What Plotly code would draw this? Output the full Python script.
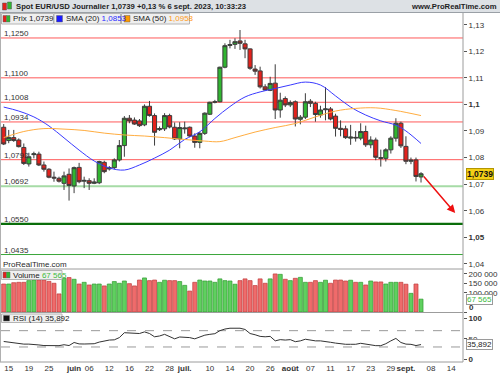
import plotly.graph_objects as go
import pandas as pd

W, H = 500, 375
FONT = "Liberation Sans, Arial, sans-serif"

# ---------------- data ----------------
dates = pd.bdate_range("2023-05-12", "2023-09-06").strftime("%Y-%m-%d").tolist()

opens = [1.0914, 1.0864, 1.0875, 1.0866, 1.0838, 1.0776, 1.0811, 1.0813, 1.0772, 1.0756,
         1.0726, 1.0722, 1.0703, 1.0737, 1.0693, 1.0763, 1.0711, 1.0713, 1.0703, 1.0705,
         1.0782, 1.0757, 1.0762, 1.0791, 1.0845, 1.0948, 1.0941, 1.0938, 1.0923, 1.0993,
         1.0958, 1.0905, 1.0908, 1.0958, 1.0914, 1.0870, 1.0908, 1.0914, 1.0881, 1.0857,
         1.0891, 1.0963, 1.1008, 1.1010, 1.1140, 1.1222, 1.1226, 1.1239, 1.1228, 1.1209,
         1.1133, 1.1126, 1.1066, 1.1053, 1.1080, 1.0979, 1.1022, 1.0998, 1.1010, 1.0944,
         1.0952, 1.1012, 1.1004, 1.0960, 1.0980, 1.0983, 1.0956, 1.0910, 1.0908, 1.0873,
         1.0876, 1.0873, 1.0898, 1.0848, 1.0866, 1.0800, 1.0797, 1.0829, 1.0873, 1.0929,
         1.0842, 1.0786, 1.0791, 1.0727]
highs = [1.0926, 1.0904, 1.0904, 1.0872, 1.0853, 1.0818, 1.0822, 1.0822, 1.0785, 1.0760,
         1.0747, 1.0728, 1.0747, 1.0759, 1.0766, 1.0780, 1.0728, 1.0722, 1.0722, 1.0788,
         1.0788, 1.0768, 1.0797, 1.0866, 1.0956, 1.0960, 1.0951, 1.0945, 1.1000, 1.1013,
         1.0966, 1.0917, 1.0967, 1.0965, 1.0932, 1.0933, 1.0935, 1.0917, 1.0891, 1.0897,
         1.0970, 1.1010, 1.1017, 1.1142, 1.1230, 1.1243, 1.1249, 1.1280, 1.1243, 1.1211,
         1.1148, 1.1142, 1.1076, 1.1104, 1.1151, 1.1044, 1.1030, 1.1015, 1.1015, 1.0960,
         1.1042, 1.1020, 1.1010, 1.0995, 1.1065, 1.0990, 1.0965, 1.0940, 1.0920, 1.0923,
         1.0900, 1.0929, 1.0920, 1.0880, 1.0875, 1.0830, 1.0835, 1.0880, 1.0948, 1.0935,
         1.0880, 1.0800, 1.0800, 1.0745]
lows = [1.0847, 1.0854, 1.0859, 1.0838, 1.0772, 1.0766, 1.0797, 1.0768, 1.0747, 1.0722,
        1.0709, 1.0706, 1.0678, 1.0638, 1.0666, 1.0703, 1.0685, 1.0678, 1.0700, 1.0700,
        1.0741, 1.0751, 1.0756, 1.0785, 1.0803, 1.0929, 1.0923, 1.0915, 1.0918, 1.0954,
        1.0845, 1.0900, 1.0900, 1.0910, 1.0866, 1.0835, 1.0890, 1.0877, 1.0837, 1.0835,
        1.0885, 1.0960, 1.1004, 1.1008, 1.1136, 1.1211, 1.1209, 1.1205, 1.1174, 1.1130,
        1.1111, 1.1060, 1.1052, 1.1050, 1.0945, 1.0950, 1.0990, 1.0990, 1.0917, 1.0925,
        1.0945, 1.0990, 1.0935, 1.0950, 1.0940, 1.0940, 1.0879, 1.0880, 1.0870, 1.0848,
        1.0860, 1.0865, 1.0840, 1.0835, 1.0790, 1.0766, 1.0785, 1.0815, 1.0860, 1.0836,
        1.0775, 1.0775, 1.0710, 1.0706]
closes = [1.0851, 1.0876, 1.0864, 1.0841, 1.0778, 1.0803, 1.0814, 1.0772, 1.0756, 1.0726,
          1.0723, 1.0711, 1.0731, 1.0695, 1.0762, 1.0709, 1.0714, 1.0703, 1.0708, 1.0785,
          1.0747, 1.0762, 1.0791, 1.0845, 1.0948, 1.0938, 1.0926, 1.0920, 1.0993, 1.0958,
          1.0895, 1.0909, 1.0958, 1.0915, 1.0870, 1.0913, 1.0911, 1.0881, 1.0857, 1.0891,
          1.0967, 1.1008, 1.1010, 1.1140, 1.1221, 1.1225, 1.1236, 1.1230, 1.1209, 1.1136,
          1.1125, 1.1066, 1.1054, 1.1079, 1.0979, 1.1016, 1.0998, 1.1007, 1.0945, 1.0952,
          1.1010, 1.1004, 1.0962, 1.0979, 1.0983, 1.0945, 1.0910, 1.0906, 1.0875, 1.0877,
          1.0874, 1.0898, 1.0848, 1.0866, 1.0801, 1.0797, 1.0829, 1.0873, 1.0929, 1.0844,
          1.0786, 1.0790, 1.0729, 1.0739]

volumes = [147000, 147000, 154000, 156000, 156000, 165000, 168000, 168000, 168000, 161000,
           151000, 95000, 177000, 181000, 172000, 147000, 156000, 142000, 147000, 147000,
           137000, 147000, 160000, 151000, 163000, 149000, 137000, 168000, 179000, 165000,
           168000, 156000, 167000, 165000, 165000, 160000, 140000, 110000, 156000, 168000,
           163000, 163000, 156000, 174000, 165000, 163000, 146000, 165000, 174000, 165000,
           139000, 174000, 151000, 174000, 200000, 198000, 172000, 165000, 177000, 182000,
           156000, 156000, 165000, 156000, 167000, 151000, 168000, 168000, 163000, 167000,
           156000, 156000, 142000, 163000, 158000, 158000, 147000, 156000, 156000, 156000,
           146000, 98000, 147000, 67565]

rsi = [43.5, 41.5, 40.0, 39.0, 37.0, 37.0, 36.6, 35.0, 33.5, 33.2,
       33.2, 33.2, 35.5, 33.5, 41.0, 37.5, 37.3, 37.5, 38.0, 42.0,
       45.0, 47.0, 47.5, 53.0, 65.0, 64.0, 63.0, 63.0, 67.0, 63.0,
       55.0, 57.0, 61.0, 56.0, 50.0, 54.5, 54.5, 53.0, 50.0, 54.0,
       59.0, 61.0, 62.6, 70.0, 74.0, 76.0, 76.0, 76.0, 73.0, 63.0,
       60.0, 56.0, 55.0, 56.0, 45.0, 48.0, 47.0, 48.0, 43.0, 45.0,
       49.0, 47.0, 45.0, 45.0, 44.0, 41.5, 39.5, 37.5, 36.6, 36.6,
       36.6, 39.0, 36.6, 34.5, 33.2, 33.2, 38.0, 45.0, 51.0, 41.0,
       37.0, 36.5, 33.5, 35.892]

sma20_dates = ["2023-05-12", "2023-05-17", "2023-05-22", "2023-05-25", "2023-05-30", "2023-06-02",
               "2023-06-07", "2023-06-12", "2023-06-15", "2023-06-20", "2023-06-23", "2023-06-28",
               "2023-07-03", "2023-07-06", "2023-07-11", "2023-07-14", "2023-07-19", "2023-07-24",
               "2023-07-27", "2023-08-01", "2023-08-04", "2023-08-09", "2023-08-14", "2023-08-17",
               "2023-08-22", "2023-08-25", "2023-08-30", "2023-09-01", "2023-09-06"]
sma20_vals = [1.0990, 1.0975, 1.0953, 1.0919, 1.0874, 1.0828, 1.0787, 1.0761, 1.0753, 1.0772,
              1.0798, 1.0828, 1.0868, 1.0897, 1.0947, 1.0992, 1.1028, 1.1047, 1.1060, 1.1073,
              1.1084, 1.1073, 1.1032, 1.0990, 1.0960, 1.0938, 1.0922, 1.0900, 1.0853]

sma50_dates = ["2023-05-12", "2023-05-18", "2023-05-24", "2023-05-30", "2023-06-05", "2023-06-09",
               "2023-06-15", "2023-06-21", "2023-06-27", "2023-07-03", "2023-07-07", "2023-07-12",
               "2023-07-17", "2023-07-21", "2023-07-27", "2023-08-02", "2023-08-08", "2023-08-14",
               "2023-08-18", "2023-08-24", "2023-08-30", "2023-09-06"]
sma50_vals = [1.0875, 1.0898, 1.0909, 1.0907, 1.0902, 1.0892, 1.0885, 1.0881, 1.0875, 1.0868,
              1.0862, 1.0860, 1.0875, 1.0896, 1.0913, 1.0928, 1.0953, 1.0975, 1.0985, 1.0987,
              1.0977, 1.0958]

levels = [1.1250, 1.1100, 1.1008, 1.0934, 1.0792, 1.0692, 1.0550, 1.0435]
level_labels = ["1,1250", "1,1100", "1,1008", "1,0934", "1,0792", "1,0692", "1,0550", "1,0435"]
level_colors = ["#ff5a5a", "#ff5a5a", "#ff5a5a", "#ff5a5a", "#ff5a5a", "#a6dba6", "#0a6e0a", "#3aa63a"]
level_widths = [1, 1, 1, 1, 1, 2, 2.2, 1]

x_tick_dates = ["2023-05-15", "2023-05-19", "2023-05-25", "2023-06-01", "2023-06-06", "2023-06-12",
                "2023-06-16", "2023-06-22", "2023-06-28", "2023-07-03", "2023-07-10", "2023-07-14",
                "2023-07-20", "2023-07-26", "2023-08-01", "2023-08-07", "2023-08-11", "2023-08-17",
                "2023-08-23", "2023-08-29", "2023-09-01", "2023-09-08", "2023-09-14"]
x_tick_labels = ["15", "19", "25", "<b>juin</b>", "06", "12", "16", "22", "28", "<b>juil.</b>",
                 "10", "14", "20", "26", "<b>août</b>", "07", "11", "17", "23", "29", "<b>sept.</b>",
                 "08", "14"]

price_ticks = [1.04, 1.05, 1.06, 1.07, 1.08, 1.09, 1.10, 1.11, 1.12, 1.13]
price_tick_labels = ["1,04", "<b>1,05</b>", "1,06", "1,07", "1,08", "1,09", "<b>1,1</b>", "1,11", "1,12", "1,13"]
vol_ticks = [0, 100000, 150000, 200000]
vol_tick_labels = ["", "100 000", "150 000", "200 000"]
vol_zero_label = "<b>0</b>"
rsi_ticks = [0, 50, 100]
rsi_tick_labels = ["<b>0</b>", "50", "<b>100</b>"]

last_price, sma20_last, sma50_last = "1,0739", "1,0853", "1,0958"
last_volume_txt, last_rsi_txt = "67 565", "35,892"
arrow_start = ("2023-09-06", 1.0734)   # from the last candle
arrow_steps, arrow_end_price = 6.5, 1.0591

# ---------------- positions ----------------
sessions = pd.bdate_range("2023-05-12", "2023-09-29").strftime("%Y-%m-%d").tolist()
pos = {d: i for i, d in enumerate(sessions)}
xs = [pos[d] for d in dates]


def px(x):
    return x / W


def py(y):
    return 1 - y / H


X_L, X_R = 1, 463
MAIN_T, MAIN_B = 13, 268
VOL_T, VOL_B = 269, 312
RSI_T, RSI_B = 313, 362
xrange_ = [-0.537, 91.35]

inc_color, dec_color = "#30b530", "#e3211c"
vol_inc, vol_dec = "#5fd05f", "#ef6b6b"
vol_colors = [vol_inc if c >= o else vol_dec for o, c in zip(opens, closes)]
vol_line = ["#2f9a2f" if c >= o else "#c03b3b" for o, c in zip(opens, closes)]

fig = go.Figure()

fig.add_trace(go.Candlestick(
    x=xs, open=opens, high=highs, low=lows, close=closes,
    increasing=dict(fillcolor=inc_color, line=dict(color="#3c3c3c", width=1)),
    decreasing=dict(fillcolor=dec_color, line=dict(color="#3c3c3c", width=1)),
    whiskerwidth=0, xaxis="x", yaxis="y", showlegend=False, hoverinfo="skip"))

fig.add_trace(go.Scatter(x=[pos[d] for d in sma20_dates], y=sma20_vals, mode="lines",
                         line=dict(color="#3a3aff", width=1, shape="spline"),
                         xaxis="x", yaxis="y", showlegend=False, hoverinfo="skip"))
fig.add_trace(go.Scatter(x=[pos[d] for d in sma50_dates], y=sma50_vals, mode="lines",
                         line=dict(color="#ffad40", width=1, shape="spline"),
                         xaxis="x", yaxis="y", showlegend=False, hoverinfo="skip"))

fig.add_trace(go.Bar(x=xs, y=volumes, marker=dict(color=vol_colors, line=dict(color=vol_line, width=0.7)),
                     xaxis="x", yaxis="y2", showlegend=False, hoverinfo="skip"))

fig.add_trace(go.Scatter(x=xs, y=rsi, mode="lines", line=dict(color="#333333", width=1),
                         xaxis="x", yaxis="y3", showlegend=False, hoverinfo="skip"))

shapes = []
for lv, col, wd in zip(levels, level_colors, level_widths):
    shapes.append(dict(type="line", xref="x domain", x0=0, x1=1, yref="y", y0=lv, y1=lv,
                       line=dict(color=col, width=wd), layer="below"))
for lv in (70, 30):
    shapes.append(dict(type="line", xref="x domain", x0=0, x1=1, yref="y3", y0=lv, y1=lv,
                       line=dict(color="#9a9a9a", width=1, dash="dash"), layer="below"))
# header
shapes.append(dict(type="rect", xref="paper", yref="paper", x0=0, x1=1, y0=py(12.5), y1=1,
                   fillcolor="#dde1e5", line=dict(width=0), layer="above"))
shapes.append(dict(type="line", xref="paper", yref="paper", x0=0, x1=1, y0=py(12.5), y1=py(12.5),
                   line=dict(color="#9aa0a6", width=1), layer="above"))
shapes.append(dict(type="rect", xref="paper", yref="paper", x0=px(2.5), x1=px(6.5), y0=py(10), y1=py(3),
                   fillcolor=dec_color, line=dict(color="#555", width=0.5), layer="above"))
shapes.append(dict(type="rect", xref="paper", yref="paper", x0=px(7.5), x1=px(11.5), y0=py(9), y1=py(2),
                   fillcolor=inc_color, line=dict(color="#555", width=0.5), layer="above"))
grey = "#9c9c9c"
for y in (VOL_T, VOL_B + 0.5, RSI_B):
    shapes.append(dict(type="line", xref="paper", yref="paper", x0=0, x1=px(X_R), y0=py(y), y1=py(y),
                       line=dict(color=grey, width=1), layer="above"))
shapes.append(dict(type="line", xref="paper", yref="paper", x0=px(X_R), x1=px(X_R), y0=py(RSI_B), y1=py(MAIN_T),
                   line=dict(color=grey, width=1), layer="above"))
shapes.append(dict(type="line", xref="paper", yref="paper", x0=px(0.5), x1=px(0.5), y0=py(RSI_B), y1=py(MAIN_T),
                   line=dict(color="#b0b0b0", width=1), layer="above"))


def box(x0, x1, y0, y1):
    shapes.append(dict(type="rect", xref="paper", yref="paper", x0=px(x0), x1=px(x1), y0=py(y1), y1=py(y0),
                       fillcolor="#efefef", line=dict(color="#b4b4b4", width=1), layer="above"))


def icon(x0, x1, y0, y1, col):
    shapes.append(dict(type="rect", xref="paper", yref="paper", x0=px(x0), x1=px(x1), y0=py(y1), y1=py(y0),
                       fillcolor=col, line=dict(color="#666", width=0.5), layer="above"))


box(1.5, 53.5, 13.5, 24); box(54, 120.5, 13.5, 24); box(121.5, 189.5, 13.5, 24)
icon(3, 6.5, 15.5, 22, dec_color); icon(6.5, 10, 15.5, 22, inc_color)
icon(56.5, 62.5, 15.5, 22, "#1a1aff"); icon(124, 130, 15.5, 22, "#ff9900")
box(1.5, 62, 270.5, 279.5); icon(3, 6.5, 272, 278, dec_color); icon(6.5, 10, 272, 278, inc_color)
box(1.5, 62, 314, 322.5); icon(3.5, 9.5, 315.5, 321, "#111111")

ann = []


def text(x, y, s, size=8, color="#222", anchor="left", bold=False, **kw):
    ann.append(dict(xref="paper", yref="paper", x=px(x), y=py(y), text=("<b>%s</b>" % s) if bold else s,
                    showarrow=False, xanchor=anchor, yanchor="middle",
                    font=dict(family=FONT, size=size, color=color), borderpad=0, **kw))


text(15, 6.5, "Spot EUR/USD Journalier %s +0,13 %% 6 sept. 2023, 10:33:23" % last_price, size=7.7, bold=True, color="#1e1e1e")
text(498, 6.5, "www.ProRealTime.com", size=7.7, bold=True, color="#1e1e1e", anchor="right")
text(11.5, 19, "Prix %s" % last_price)
text(64.5, 19, 'SMA (20) <span style="color:#2b2bff">%s</span>' % sma20_last)
text(132, 19, 'SMA (50) <span style="color:#ff9a1a">%s</span>' % sma50_last)
text(11.5, 275.2, 'Volume <span style="color:#3cbb3c">%s</span>' % last_volume_txt)
text(11.5, 318.5, "RSI (14) %s" % last_rsi_txt)
text(1.5, 264, "ProRealTime.com", color="#2a2a2a")
text(468, 307, vol_zero_label, color="#333")

for lv, lab in zip(levels, level_labels):
    ann.append(dict(xref="paper", yref="y", x=px(3), y=lv, text=lab, showarrow=False,
                    xanchor="left", yanchor="bottom", yshift=-1, borderpad=0,
                    font=dict(family=FONT, size=8, color="#333")))

ann.append(dict(xref="paper", yref="y", x=px(466), y=1.0739, text="<b>%s</b>" % last_price, showarrow=False,
                xanchor="left", yanchor="middle", bgcolor="#f3cf16", bordercolor="#b39600", borderwidth=1,
                borderpad=0, font=dict(family=FONT, size=8.5, color="#111")))
ann.append(dict(xref="paper", yref="y2", x=px(466), y=volumes[-1], text=last_volume_txt, showarrow=False,
                xanchor="left", yanchor="middle", bgcolor="#ffffff", bordercolor="#9a9a9a", borderwidth=1,
                borderpad=0, font=dict(family=FONT, size=8, color="#3cbb3c")))
ann.append(dict(xref="paper", yref="y3", x=px(466), y=rsi[-1], text=last_rsi_txt, showarrow=False,
                xanchor="left", yanchor="middle", bgcolor="#ffffff", bordercolor="#9a9a9a", borderwidth=1,
                borderpad=0, font=dict(family=FONT, size=8, color="#222")))

x_start = pos[arrow_start[0]] + 0.3
ann.append(dict(xref="x", yref="y", axref="x", ayref="y", x=x_start + arrow_steps, y=arrow_end_price,
                ax=x_start, ay=arrow_start[1], text="", showarrow=True, arrowhead=2, arrowsize=1.1,
                arrowwidth=1.5, arrowcolor="#ee1010"))

axis_font = dict(family=FONT, size=8, color="#333")
fig.update_layout(
    width=W, height=H, margin=dict(l=0, r=0, t=0, b=0, autoexpand=False),
    paper_bgcolor="white", plot_bgcolor="white",
    boxgap=0.1, boxgroupgap=0.1, bargap=0.2,
    showlegend=False,
    xaxis=dict(domain=[px(X_L), px(X_R)], range=xrange_, anchor="y3",
               tickvals=[pos[d] for d in x_tick_dates], ticktext=x_tick_labels, tickangle=0,
               tickfont=axis_font, ticks="", showgrid=False, zeroline=False, showline=False,
               rangeslider=dict(visible=False)),
    yaxis=dict(domain=[py(MAIN_B), py(MAIN_T)], range=[1.13 - (MAIN_B - 24.7) / 2657, 1.13 + (24.7 - MAIN_T) / 2657],
               side="right", anchor="x", tickvals=price_ticks, ticktext=price_tick_labels,
               ticks="outside", ticklen=3, tickcolor="#555", tickfont=axis_font,
               showgrid=False, zeroline=False, showline=False),
    yaxis2=dict(domain=[py(VOL_B), py(VOL_T)], range=[0, 226000], side="right", anchor="x",
                tickvals=vol_ticks, ticktext=vol_tick_labels, ticks="outside", ticklen=3, tickcolor="#555",
                tickfont=axis_font, showgrid=False, zeroline=False, showline=False),
    yaxis3=dict(domain=[py(RSI_B), py(RSI_T)], range=[(359.2 - RSI_B) / 0.4075, (359.2 - RSI_T) / 0.4075],
                side="right", anchor="x", tickvals=rsi_ticks, ticktext=rsi_tick_labels,
                ticks="outside", ticklen=3, tickcolor="#555", tickfont=axis_font,
                showgrid=False, zeroline=False, showline=False),
    shapes=shapes, annotations=ann,
)

fig.write_html("out.html", config={"displayModeBar": False, "staticPlot": True},
               post_script="document.body.style.margin='0';document.body.style.overflow='hidden';")
